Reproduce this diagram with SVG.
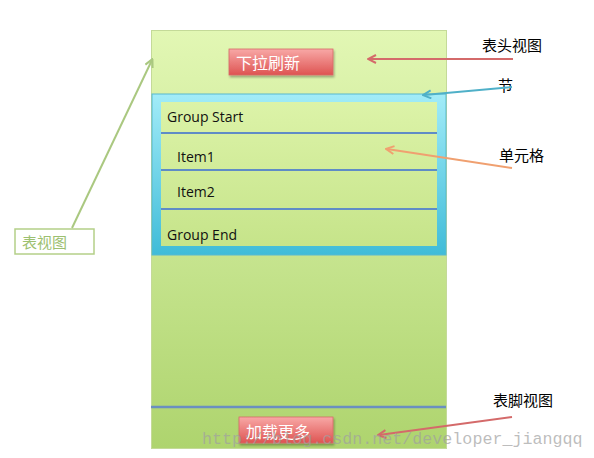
<svg xmlns="http://www.w3.org/2000/svg" width="594" height="458" viewBox="0 0 594 458">
<style>
.lbl{font-family:"Liberation Sans","Noto Sans CJK SC",sans-serif;font-size:15px;fill:#000}
.cell{font-family:"Open Sans","Liberation Sans",sans-serif;font-size:14px;fill:#111}
.btnt{font-family:"Liberation Sans","Noto Sans CJK SC",sans-serif;font-size:16px;fill:#fff}
.sep{stroke:#5f8cc6;stroke-width:2}
</style>
<defs>
<linearGradient id="gMain" x1="0" y1="0" x2="0" y2="1">
<stop offset="0" stop-color="#e2f7b4"/>
<stop offset="1" stop-color="#aed46e"/>
</linearGradient>
<linearGradient id="gSec" x1="0" y1="0" x2="0" y2="1">
<stop offset="0" stop-color="#a2ecf8"/>
<stop offset="1" stop-color="#3fbcd8"/>
</linearGradient>
<linearGradient id="gCell" x1="0" y1="0" x2="0" y2="1">
<stop offset="0" stop-color="#dcf3a8"/>
<stop offset="1" stop-color="#c6e48a"/>
</linearGradient>
<linearGradient id="gBtn" x1="0" y1="0" x2="0" y2="1">
<stop offset="0" stop-color="#f8a8a6"/>
<stop offset="1" stop-color="#de5452"/>
</linearGradient>
<filter id="sh" x="-10%" y="-10%" width="130%" height="150%">
<feDropShadow dx="1" dy="2" stdDeviation="1.2" flood-color="#000" flood-opacity="0.3"/>
</filter>
<marker id="aR" markerWidth="10" markerHeight="10" refX="8" refY="5" orient="auto" markerUnits="userSpaceOnUse">
<path d="M1,1 L9,5 L1,9" fill="none" stroke="#d46a6a" stroke-width="2"/>
</marker>
<marker id="aB" markerWidth="10" markerHeight="10" refX="8" refY="5" orient="auto" markerUnits="userSpaceOnUse">
<path d="M1,1 L9,5 L1,9" fill="none" stroke="#4fb0c8" stroke-width="2"/>
</marker>
<marker id="aO" markerWidth="10" markerHeight="10" refX="8" refY="5" orient="auto" markerUnits="userSpaceOnUse">
<path d="M1,1 L9,5 L1,9" fill="none" stroke="#f0a070" stroke-width="2"/>
</marker>
<marker id="aG" markerWidth="10" markerHeight="10" refX="8" refY="5" orient="auto" markerUnits="userSpaceOnUse">
<path d="M1,1 L9,5 L1,9" fill="none" stroke="#aac880" stroke-width="2"/>
</marker>
</defs>
<rect width="594" height="458" fill="#fff"/>
<g id="tableView">
<rect x="151.5" y="30.5" width="295" height="418" fill="url(#gMain)" stroke="#c4da98" stroke-width="1"/>
<line x1="151" y1="407" x2="446" y2="407" stroke="#6a8fc0" stroke-width="2.5"/>
</g>
<g id="header">
<rect x="229" y="49" width="104" height="26" fill="url(#gBtn)" stroke="#d86a68" stroke-width="0.8" filter="url(#sh)"/>
<text class="btnt" x="236" y="69">下拉刷新</text>
</g>
<g id="section">
<rect x="152" y="94" width="294" height="161" fill="url(#gSec)" stroke="#58b8d0" stroke-width="1"/>
<rect x="161" y="102" width="276" height="144" fill="url(#gCell)"/>
<line class="sep" x1="161" y1="133" x2="437" y2="133"/>
<line class="sep" x1="161" y1="170" x2="437" y2="170"/>
<line class="sep" x1="161" y1="209" x2="437" y2="209"/>
</g>
<g id="groupStart"><text class="cell" x="167" y="122">Group Start</text></g>
<g id="item1"><text class="cell" x="177" y="162">Item1</text></g>
<g id="item2"><text class="cell" x="177" y="197">Item2</text></g>
<g id="groupEnd"><text class="cell" x="167" y="240">Group End</text></g>
<g id="footer">
<rect x="239" y="417" width="94" height="26" fill="url(#gBtn)" stroke="#d86a68" stroke-width="0.8" filter="url(#sh)"/>
<text class="btnt" x="246" y="438">加载更多</text>
</g>
<g id="tableViewLabel">
<rect x="15" y="229" width="79" height="25" fill="#fff" stroke="#b4cf88" stroke-width="1.5"/>
<text class="lbl" x="22" y="248" style="fill:#9cc070">表视图</text>
</g>
<g id="labels">
<text class="lbl" x="482" y="51">表头视图</text>
<text class="lbl" x="498" y="91">节</text>
<text class="lbl" x="499" y="161">单元格</text>
<text class="lbl" x="493" y="406">表脚视图</text>
</g>
<g id="connectors" fill="none" stroke-width="2">
<line x1="513" y1="59" x2="369" y2="59" stroke="#d46a6a" marker-end="url(#aR)"/>
<line x1="512" y1="87" x2="424" y2="95" stroke="#4fb0c8" marker-end="url(#aB)"/>
<line x1="512" y1="168" x2="387" y2="149" stroke="#f0a070" marker-end="url(#aO)"/>
<line x1="72" y1="228" x2="152" y2="60" stroke="#aac880" marker-end="url(#aG)"/>
<line x1="512" y1="417" x2="379" y2="435" stroke="#d46a6a" marker-end="url(#aR)"/>
</g>
<text x="202" y="444" font-family="Liberation Mono,monospace" font-size="16.7" fill="#a0a0a0" fill-opacity="0.7">http://blog.csdn.net/developer_jiangqq</text>
</svg>
